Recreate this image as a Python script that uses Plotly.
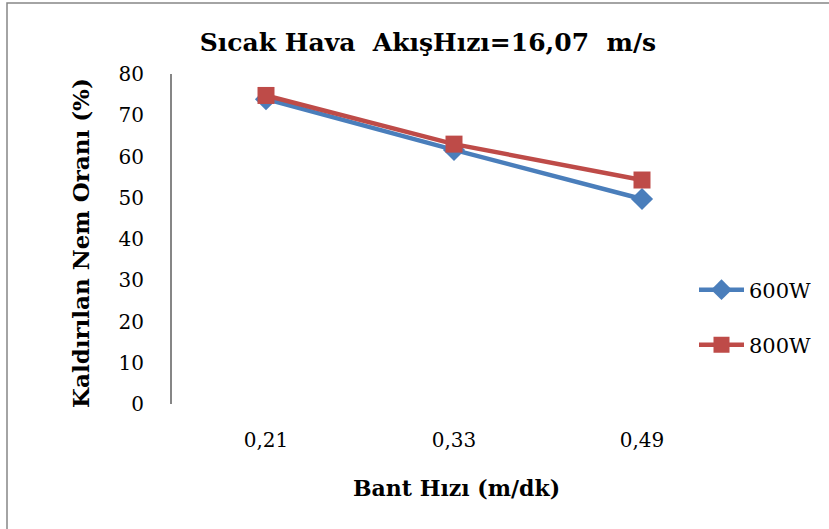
import plotly.graph_objects as go

categories = ["0,21", "0,33", "0,49"]
values_600 = [73.9, 61.6, 49.7]
values_800 = [74.8, 63.0, 54.3]
y_ticks = [0, 10, 20, 30, 40, 50, 60, 70, 80]

W, H = 829, 529
L, R, T, B = 172, 736, 74, 404

def px(x):
    return (x - L) / (R - L)

def py(y):
    return (B - y) / (B - T)

FONT = "DejaVu Serif"
BLUE = "#4A7EBB"
RED = "#BE4B48"

fig = go.Figure()
fig.add_trace(go.Scatter(
    x=categories, y=values_600, name="600W", mode="lines+markers",
    line=dict(color=BLUE, width=4.5),
    marker=dict(symbol="diamond", size=17, color=BLUE),
    legend="legend",
))
fig.add_trace(go.Scatter(
    x=categories, y=values_800, name="800W", mode="lines+markers",
    line=dict(color=RED, width=4.5),
    marker=dict(symbol="square", size=17, color=RED),
    legend="legend2",
))

fig.update_layout(
    width=W, height=H,
    margin=dict(l=L, r=W - R, t=T, b=H - B),
    paper_bgcolor="white", plot_bgcolor="white",
    font=dict(family=FONT, color="black", size=20),
    title=dict(text="<b>Sıcak Hava  AkışHızı=16,07  m/s</b>",
               x=(428) / W, xanchor="center", xref="container",
               y=1 - 42 / H, yanchor="middle", yref="container",
               font=dict(family=FONT, size=25, color="black")),
    xaxis=dict(type="category", range=[-0.5, 2.5], showline=False,
               showgrid=False, zeroline=False, ticks="",
               ticklabelstandoff=22,
               tickfont=dict(family=FONT, size=20, color="black")),
    yaxis=dict(range=[0, 80], tickvals=y_ticks, showline=True,
               linecolor="#868686", linewidth=2, showgrid=False,
               zeroline=False, ticks="", ticklabelstandoff=22,
               tickfont=dict(family=FONT, size=20, color="black")),
    legend=dict(x=px(694), y=py(290), xanchor="left", yanchor="middle",
                itemwidth=45,
                bgcolor="rgba(0,0,0,0)", font=dict(family=FONT, size=21)),
    legend2=dict(x=px(694), y=py(345), xanchor="left", yanchor="middle",
                 itemwidth=45,
                 bgcolor="rgba(0,0,0,0)", font=dict(family=FONT, size=21)),
    showlegend=True,
    annotations=[
        dict(text="<b>Kaldırılan Nem Oranı (%)</b>", x=px(80), y=py(243),
             xref="paper", yref="paper", showarrow=False, textangle=-90,
             font=dict(family=FONT, size=23, color="black"),
             xanchor="center", yanchor="middle"),
        dict(text="<b>Bant Hızı (m/dk)</b>", x=px(456), y=py(488),
             xref="paper", yref="paper", showarrow=False,
             font=dict(family=FONT, size=22, color="black"),
             xanchor="center", yanchor="middle"),
    ],
    shapes=[
        dict(type="rect", xref="paper", yref="paper",
             x0=px(7), x1=px(845), y0=py(545), y1=py(3),
             line=dict(color="#868686", width=1.5), layer="below"),
    ],
)

fig.write_html("out.html")
